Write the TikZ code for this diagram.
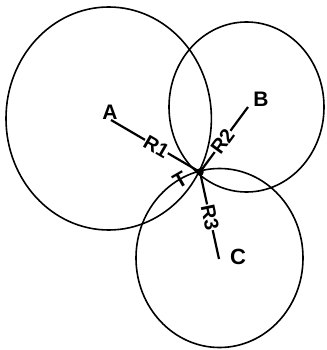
\documentclass[tikz,border=0pt]{standalone}
\usepackage{fontspec}
\setmainfont{Liberation Sans}
\begin{document}
\begin{tikzpicture}[x=1pt,y=-1pt,
  ring/.style={line width=1.6pt},
  ray/.style={line width=2.2pt},
  rlab/.style={fill=white,inner sep=0.3pt,font=\bfseries\fontsize{20}{20}\selectfont},
  plab/.style={inner sep=0pt,font=\bfseries\fontsize{21}{21}\selectfont}]
\useasboundingbox (0,0) rectangle (326,350);
\coordinate (A) at (111,120);
\coordinate (B) at (248,107);
\coordinate (C) at (219,259);
\coordinate (T) at (200,172);
% circles
\draw[ring] (108.7,118.5) ellipse [x radius=102.7pt, y radius=111.5pt];
\draw[ring] (246.5,107) ellipse [x radius=77.5pt, y radius=85pt];
\draw[ring] (219.5,258) ellipse [x radius=83.5pt, y radius=89.5pt];
% rays
\draw[ray] (A) -- (T) node[rlab,pos=0.51,rotate=-30] (r1) {R1};
\draw[ray] (T) -- (B) node[rlab,pos=0.47,rotate=54] (r2) {R2};
\draw[ray] (T) -- (C) node[rlab,pos=0.52,rotate=-78] (r3) {R3};
\fill (T) circle [radius=3.8pt];
% labels
\node[plab] (la) at (110,112) {A};
\node[plab] (lb) at (261,99) {B};
\node[plab,font=\bfseries\fontsize{22}{22}\selectfont] (lc) at (238,257) {C};
\node[inner sep=0pt,rotate=30,font=\bfseries\fontsize{21}{21}\selectfont] (lt) at (180,180) {T};
\end{tikzpicture}
\end{document}
